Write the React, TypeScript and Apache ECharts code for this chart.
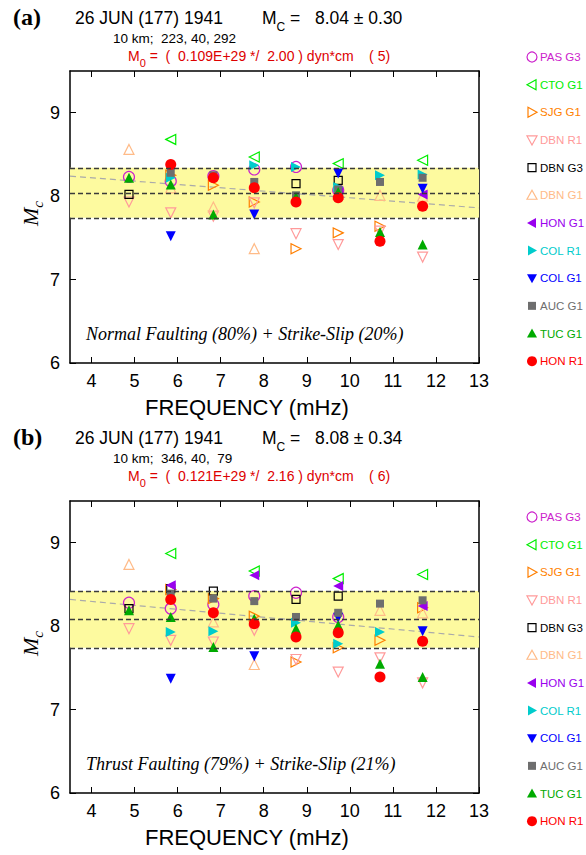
import React, { useEffect, useRef } from "react";
import * as echarts from "echarts";

// ---- data ----
const FREQ = [4.87, 5.84, 6.83, 7.78, 8.75, 9.73, 10.7, 11.69];
const X_TICKS = [4, 5, 6, 7, 8, 9, 10, 11, 12, 13];
const Y_TICKS = [6, 7, 8, 9];
const STATIONS = ["PAS G3", "CTO G1", "SJG G1", "DBN R1", "DBN G3", "DBN G1", "HON G1", "COL R1", "COL G1", "AUC G1", "TUC G1", "HON R1"];

// panel (a)
const A_MC = 8.04;
const A_SD = 0.3;
const A_TREND = [8.24, 7.86];
const A_PAS_G3 = [8.23, 8.18, 8.24, 8.32, 8.35, 8.07, null, null];
const A_CTO_G1 = [null, 8.68, null, 8.47, null, 8.39, null, 8.43];
const A_SJG_G1 = [null, 8.25, 8.13, 7.93, 7.37, 7.56, 7.64, null];
const A_DBN_R1 = [7.93, 7.8, 7.76, 7.92, 7.55, 7.42, 7.58, 7.27];
const A_DBN_G3 = [8.02, null, null, null, 8.15, 8.19, null, null];
const A_DBN_G1 = [8.56, 8.1, 7.87, 7.37, null, 8.02, 8.01, 8.0];
const A_HON_G1 = [null, null, null, null, null, 8.06, null, 8.02];
const A_COL_R1 = [null, 8.22, null, 8.37, 8.35, 8.11, 8.25, 8.26];
const A_COL_G1 = [null, 7.52, null, 7.78, null, 8.27, null, 8.09];
const A_AUC_G1 = [null, 8.28, 8.25, 8.17, 8.01, 8.08, 8.17, 8.22];
const A_TUC_G1 = [8.22, 8.14, 7.78, null, 7.99, 8.05, 7.57, 7.42];
const A_HON_R1 = [null, 8.38, 8.22, 8.1, 7.93, 7.98, 7.46, 7.88];

// panel (b)
const B_MC = 8.08;
const B_SD = 0.34;
const B_TREND = [8.32, 7.87];
const B_PAS_G3 = [8.28, 8.21, 8.26, 8.36, 8.4, 8.11, null, null];
const B_CTO_G1 = [null, 8.87, null, 8.66, null, 8.57, null, 8.62];
const B_SJG_G1 = [null, 8.44, 8.33, 8.12, 7.57, 7.74, 7.83, 8.22];
const B_DBN_R1 = [7.97, 7.83, 7.81, 7.95, 7.6, 7.45, 7.62, 7.32];
const B_DBN_G3 = [8.21, 8.45, 8.42, null, 8.32, 8.36, null, null];
const B_DBN_G1 = [8.74, null, 8.05, 7.54, null, null, 8.19, 8.16];
const B_HON_G1 = [null, 8.49, null, 8.61, null, 8.48, null, 8.24];
const B_COL_R1 = [null, 7.93, 7.94, null, 8.04, 7.79, 7.93, null];
const B_COL_G1 = [null, 7.37, null, 7.64, null, 8.1, null, 7.94];
const B_AUC_G1 = [null, 8.39, 8.33, 8.3, 8.11, 8.16, 8.27, 8.31];
const B_TUC_G1 = [8.19, 8.11, 7.75, 8.09, 7.97, 8.01, 7.55, 7.39];
const B_HON_R1 = [null, 8.32, 8.16, 8.03, 7.87, 7.92, 7.39, 7.82];

const A_VALUES = [A_PAS_G3, A_CTO_G1, A_SJG_G1, A_DBN_R1, A_DBN_G3, A_DBN_G1, A_HON_G1, A_COL_R1, A_COL_G1, A_AUC_G1, A_TUC_G1, A_HON_R1];
const B_VALUES = [B_PAS_G3, B_CTO_G1, B_SJG_G1, B_DBN_R1, B_DBN_G3, B_DBN_G1, B_HON_G1, B_COL_R1, B_COL_G1, B_AUC_G1, B_TUC_G1, B_HON_R1];

// ---- styles ----
const STYLE: Record<string, { symbol: string; rotate: number; color: string; hollow: boolean; size: number }> = {
  "PAS G3": { symbol: "circle", rotate: 0, color: "#cc22cc", hollow: true, size: 11 },
  "CTO G1": { symbol: "triangle", rotate: 90, color: "#00ee00", hollow: true, size: 10 },
  "SJG G1": { symbol: "triangle", rotate: -90, color: "#ff7f00", hollow: true, size: 10 },
  "DBN R1": { symbol: "triangle", rotate: 180, color: "#ff9a9a", hollow: true, size: 10 },
  "DBN G3": { symbol: "rect", rotate: 0, color: "#000000", hollow: true, size: 8 },
  "DBN G1": { symbol: "triangle", rotate: 0, color: "#ffbb88", hollow: true, size: 10 },
  "HON G1": { symbol: "triangle", rotate: 90, color: "#9900ee", hollow: false, size: 10 },
  "COL R1": { symbol: "triangle", rotate: -90, color: "#00cccc", hollow: false, size: 10 },
  "COL G1": { symbol: "triangle", rotate: 180, color: "#0000ff", hollow: false, size: 10 },
  "AUC G1": { symbol: "rect", rotate: 0, color: "#6e6e6e", hollow: false, size: 8 },
  "TUC G1": { symbol: "triangle", rotate: 0, color: "#00aa00", hollow: false, size: 10 },
  "HON R1": { symbol: "circle", rotate: 0, color: "#ff0000", hollow: false, size: 11 },
};

const SANS = "'Liberation Sans', Arial, sans-serif";
const SERIF = "'Liberation Serif', 'Times New Roman', serif";

const GRID_LEFT = 70;
const GRID_W = 409;
const GRID_H = 292;
const TOPS = [71, 501];

function buildPanelSeries(values: (number | null)[][], xi: number, mc: number, sd: number, trend: number[]) {
  const out: any[] = [];
  out.push({
    type: "line",
    xAxisIndex: xi,
    yAxisIndex: xi,
    data: [],
    silent: true,
    z: 1,
    markArea: {
      silent: true,
      itemStyle: { color: "#fdfa9f" },
      data: [[{ yAxis: mc - sd }, { yAxis: mc + sd }]],
    },
    markLine: {
      silent: true,
      symbol: "none",
      label: { show: false },
      lineStyle: { color: "#3a3a3a", type: [5, 3], width: 1.3 },
      data: [{ yAxis: mc - sd }, { yAxis: mc }, { yAxis: mc + sd }],
    },
  });
  out.push({
    type: "line",
    xAxisIndex: xi,
    yAxisIndex: xi,
    silent: true,
    symbol: "none",
    z: 2,
    lineStyle: { color: "#aaaaaa", type: [6, 4], width: 1.2 },
    data: [[3.5, trend[0]], [13, trend[1]]],
  });
  STATIONS.forEach((name, k) => {
    const st = STYLE[name];
    const data = FREQ.map((f, i) => (values[k][i] == null ? null : [f, values[k][i]])).filter((d) => d !== null);
    out.push({
      type: "scatter",
      name,
      xAxisIndex: xi,
      yAxisIndex: xi,
      symbol: st.symbol,
      symbolRotate: st.rotate,
      symbolSize: st.size,
      z: 3,
      itemStyle: st.hollow
        ? { color: "rgba(255,255,255,0)", borderColor: st.color, borderWidth: 1.2, opacity: 1 }
        : { color: st.color, borderWidth: 0, opacity: 1 },
      data,
    });
  });
  return out;
}

function xAxes(gridIndex: number) {
  const base = {
    type: "value",
    gridIndex,
    min: 3.5,
    max: 13,
    splitLine: { show: false },
    axisLine: { show: true, onZero: false, lineStyle: { color: "#000", width: 1.5 } },
    axisTick: { show: true, inside: true, length: 6, customValues: X_TICKS, lineStyle: { color: "#000", width: 1 } },
  };
  return [
    { ...base, position: "bottom", axisLabel: { show: true, customValues: X_TICKS, fontSize: 18, color: "#000", fontFamily: SANS, margin: 9 } },
    { ...base, position: "top", axisLabel: { show: false } },
  ];
}

function yAxes(gridIndex: number) {
  const base = {
    type: "value",
    gridIndex,
    min: 6,
    max: 9.5,
    splitLine: { show: false },
    axisLine: { show: true, onZero: false, lineStyle: { color: "#000", width: 1.5 } },
    axisTick: { show: true, inside: true, length: 6, customValues: Y_TICKS, lineStyle: { color: "#000", width: 1 } },
  };
  return [
    { ...base, position: "left", axisLabel: { show: true, customValues: Y_TICKS, fontSize: 18, color: "#000", fontFamily: SANS, margin: 10 } },
    { ...base, position: "right", axisLabel: { show: false } },
  ];
}

// legend markers drawn as graphics (rotated triangles are not inherited by the built-in legend)
function markerShape(name: string, cx: number, cy: number): any {
  const st = STYLE[name];
  const style = st.hollow
    ? { fill: "none", stroke: st.color, lineWidth: 1.2 }
    : { fill: st.color, stroke: "none" };
  if (st.symbol === "circle") return { type: "circle", shape: { cx, cy, r: 5 }, style };
  if (st.symbol === "rect") return { type: "rect", shape: { x: cx - 4, y: cy - 4, width: 8, height: 8 }, style };
  const r = 5;
  let pts: number[][];
  if (st.rotate === 0) pts = [[cx, cy - r], [cx + r, cy + r * 0.8], [cx - r, cy + r * 0.8]];
  else if (st.rotate === 180) pts = [[cx, cy + r], [cx + r, cy - r * 0.8], [cx - r, cy - r * 0.8]];
  else if (st.rotate === 90) pts = [[cx - r, cy], [cx + r * 0.8, cy - r], [cx + r * 0.8, cy + r]];
  else pts = [[cx + r, cy], [cx - r * 0.8, cy - r], [cx - r * 0.8, cy + r]];
  return { type: "polygon", shape: { points: pts }, style };
}

function legendGraphics(y0: number) {
  const out: any[] = [];
  STATIONS.forEach((name, k) => {
    const cy = y0 + k * 27.65;
    out.push(markerShape(name, 532, cy));
    out.push({
      type: "text",
      x: 540,
      y: cy,
      style: { text: name, font: `11.5px ${SANS}`, fill: STYLE[name].color, textVerticalAlign: "middle", verticalAlign: "middle" },
    });
  });
  return out;
}

function headerGraphics(dy: number, tag: string, mc: string, sd: string, geom: string, m0: string, sig: string, n: string) {
  return [
    { type: "text", left: 13, top: 5 + dy, style: { text: tag, font: `bold 24px ${SERIF}`, fill: "#000" } },
    { type: "text", left: 75, top: 9 + dy, style: { text: "26 JUN (177) 1941", font: `17.5px ${SANS}`, fill: "#000" } },
    {
      type: "text",
      left: 262,
      top: 9 + dy,
      style: {
        text: `{m|M}{s|C}{m| =   ${mc} ± ${sd}}`,
        rich: {
          m: { font: `17.5px ${SANS}`, fill: "#000", verticalAlign: "bottom" },
          s: { font: `12px ${SANS}`, fill: "#000", verticalAlign: "bottom", padding: [0, 0, -6, 0] },
        },
      },
    },
    { type: "text", left: 113, top: 31 + dy, style: { text: geom, font: `13.5px ${SANS}`, fill: "#000" } },
    {
      type: "text",
      left: 128,
      top: 49 + dy,
      style: {
        text: `{m|M}{s|0}{m| =  (  ${m0} */  ${sig} ) dyn*cm    ( ${n})}`,
        rich: {
          m: { font: `14px ${SANS}`, fill: "#dd0000", verticalAlign: "bottom" },
          s: { font: `11px ${SANS}`, fill: "#dd0000", verticalAlign: "bottom", padding: [0, 0, -5, 0] },
        },
      },
    },
  ];
}

function plotTexts(dy: number, note: string) {
  return [
    {
      type: "text",
      left: 19,
      top: 201 + dy,
      rotation: Math.PI / 2,
      style: {
        text: "{m|M}{s|c}",
        rich: {
          m: { font: `italic 22px ${SERIF}`, fill: "#000", verticalAlign: "bottom" },
          s: { font: `italic 15px ${SERIF}`, fill: "#000", verticalAlign: "bottom", padding: [0, 0, -4, 0] },
        },
      },
    },
    { type: "text", left: 86, top: 325 + dy, style: { text: note, font: `italic 18px ${SERIF}`, fill: "#000" } },
    { type: "text", left: 145, top: 396 + dy, style: { text: "FREQUENCY (mHz)", font: `22px ${SANS}`, fill: "#000" } },
  ];
}

export default function App() {
  const ref = useRef<HTMLDivElement>(null);
  useEffect(() => {
    if (!ref.current) return;
    const chart = echarts.init(ref.current, null, { renderer: "svg" });
    const option: any = {
      animation: false,
      backgroundColor: "#fff",
      grid: TOPS.map((t) => ({ left: GRID_LEFT, top: t, width: GRID_W, height: GRID_H })),
      xAxis: [...xAxes(0), ...xAxes(1)],
      yAxis: [...yAxes(0), ...yAxes(1)],
      series: [
        ...buildPanelSeries(A_VALUES, 0, A_MC, A_SD, A_TREND),
        ...buildPanelSeries(B_VALUES, 2, B_MC, B_SD, B_TREND),
      ],
      graphic: [
        ...headerGraphics(0, "(a)", "8.04", "0.30", "10 km;  223, 40, 292", "0.109E+29", "2.00", "5"),
        ...headerGraphics(420, "(b)", "8.08", "0.34", "10 km;  346, 40,  79", "0.121E+29", "2.16", "6"),
        ...plotTexts(0, "Normal Faulting (80%) + Strike-Slip (20%)"),
        ...plotTexts(430, "Thrust Faulting (79%) + Strike-Slip (21%)"),
        ...legendGraphics(57),
        ...legendGraphics(517),
      ],
    };
    chart.setOption(option);
    return () => chart.dispose();
  }, []);
  return <div ref={ref} style={{ position: "absolute", left: 0, top: 0, width: 586, height: 855 }} />;
}
